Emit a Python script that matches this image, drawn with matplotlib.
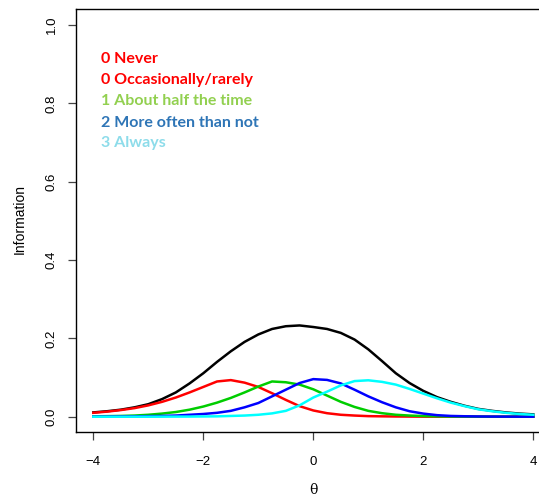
import matplotlib
matplotlib.use("Agg")
import matplotlib.pyplot as plt
import numpy as np

# theta grid and information values (step 0.25)
theta = [-4.0, -3.75, -3.5, -3.25, -3.0, -2.75, -2.5, -2.25, -2.0, -1.75, -1.5,
         -1.25, -1.0, -0.75, -0.5, -0.25, 0.0, 0.25, 0.5, 0.75, 1.0, 1.25, 1.5,
         1.75, 2.0, 2.25, 2.5, 2.75, 3.0, 3.25, 3.5, 3.75, 4.0]

info_total = [0.011, 0.014, 0.018, 0.024, 0.032, 0.045, 0.062, 0.085, 0.111, 0.140, 0.167,
              0.191, 0.210, 0.224, 0.231, 0.233, 0.229, 0.224, 0.214, 0.197, 0.172, 0.142, 0.111,
              0.086, 0.066, 0.050, 0.038, 0.028, 0.020, 0.015, 0.011, 0.008, 0.006]
info_cat0 = [0.010, 0.013, 0.017, 0.022, 0.029, 0.038, 0.049, 0.062, 0.076, 0.090, 0.0935,
             0.087, 0.076, 0.060, 0.043, 0.027, 0.016, 0.009, 0.005, 0.003, 0.0015, 0.001, 0.0006,
             0.0004, 0.0002, 0.0001, 0.0001, 0.0, 0.0, 0.0, 0.0, 0.0, 0.0]
info_cat1 = [0.001, 0.0015, 0.002, 0.003, 0.005, 0.008, 0.012, 0.018, 0.026, 0.036, 0.048,
             0.062, 0.077, 0.090, 0.088, 0.082, 0.070, 0.054, 0.038, 0.025, 0.015, 0.009, 0.005,
             0.003, 0.0017, 0.001, 0.0006, 0.0004, 0.0002, 0.0001, 0.0001, 0.0, 0.0]
info_cat2 = [0.0003, 0.0005, 0.0007, 0.001, 0.0015, 0.002, 0.003, 0.005, 0.007, 0.010, 0.015,
             0.024, 0.035, 0.052, 0.069, 0.086, 0.096, 0.094, 0.085, 0.069, 0.052, 0.037, 0.024,
             0.014, 0.008, 0.004, 0.002, 0.0012, 0.0007, 0.0004, 0.0003, 0.0002, 0.0001]
info_cat3 = [0.0, 0.0, 0.0, 0.0001, 0.0001, 0.0002, 0.0003, 0.0004, 0.0007, 0.001, 0.002,
             0.003, 0.005, 0.0085, 0.015, 0.029, 0.049, 0.064, 0.080, 0.091, 0.093, 0.089, 0.082,
             0.071, 0.059, 0.047, 0.036, 0.027, 0.019, 0.014, 0.010, 0.007, 0.005]

legend_labels = ["0 Never", "0 Occasionally/rarely", "1 About half the time",
                 "2 More often than not", "3 Always"]
legend_colors = ["#ff0000", "#ff0000", "#92d050", "#2e75b6", "#8ddcea"]

x_ticks = [-4, -2, 0, 2, 4]
x_tick_labels = ["\u22124", "\u22122", "0", "2", "4"]
y_ticks = [0.0, 0.2, 0.4, 0.6, 0.8, 1.0]

W, H = 539, 499
fig = plt.figure(figsize=(W / 100, H / 100), dpi=100)
# plot region in pixels: left 75.7, right 550.9 (off canvas), top 9.3, bottom 432.4
ax = fig.add_axes([75.7 / W, (H - 432.4) / H, (550.9 - 75.7) / W, (432.4 - 9.3) / H])

th = np.asarray(theta)
ax.plot(th, info_total, color="black", lw=1.8)
ax.plot(th, info_cat0, color="#ff0000", lw=1.8)
ax.plot(th, info_cat1, color="#00cd00", lw=1.8)
ax.plot(th, info_cat2, color="#0000ff", lw=1.8)
ax.plot(th, info_cat3, color="#00ffff", lw=1.8)

ax.set_xlim(-4.32, 4.32)
ax.set_ylim(-0.04, 1.04)
for s in ax.spines.values():
    s.set_linewidth(1.0)
    s.set_color("black")

tick_font = {"family": "Liberation Sans", "size": 9.5}
ax.set_xticks(x_ticks)
ax.set_xticklabels(x_tick_labels, fontdict=tick_font)
ax.set_yticks(y_ticks)
ax.set_yticklabels([f"{v:.1f}" for v in y_ticks], fontdict=tick_font, rotation=90, va="center")
ax.tick_params(axis="x", length=6, width=0.9, color="#444444", pad=11)
ax.tick_params(axis="y", length=6, width=0.9, color="#444444", pad=7)

fig.text(313.3 / W, 1 - 490 / H, "\u03b8", ha="center", va="center",
         family="DejaVu Serif", fontsize=10)
fig.text(20 / W, 1 - 219 / H, "Information", ha="center", va="center",
         rotation=90, family="Liberation Sans", fontsize=10)

text_y = [0.902, 0.849, 0.796, 0.740, 0.689]
for lab, col, yy in zip(legend_labels, legend_colors, text_y):
    ax.text(-3.86, yy, lab, color=col, family="Lato", fontweight="bold",
            fontsize=11.5, ha="left", va="baseline")

fig.savefig("out.png", dpi=100)
